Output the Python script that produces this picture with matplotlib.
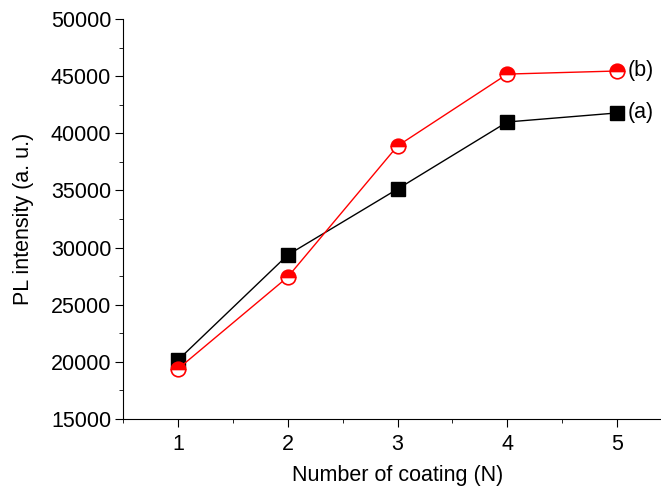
import matplotlib
matplotlib.use('Agg')
import matplotlib.pyplot as plt
from matplotlib.ticker import MultipleLocator

plt.rcParams['font.family'] = ['Liberation Sans', 'DejaVu Sans']

coats = [1, 2, 3, 4, 5]
series_a = [20150, 29350, 35120, 40990, 41780]
series_b = [19380, 27420, 38890, 45180, 45450]

fig = plt.figure(figsize=(6.61, 4.86), dpi=100)
# axes extends a little past the right edge, as in the source image
ax = fig.add_axes([123 / 661, (486 - 419) / 486, 549 / 661, 400 / 486])

ax.plot(coats, series_a, color='black', lw=1, marker='s', ms=9.5,
        markerfacecolor='black', markeredgecolor='black')
ax.plot(coats, series_b, color='red', lw=1, marker='o', ms=10.5,
        fillstyle='top', markerfacecolor='red', markerfacecoloralt='white',
        markeredgecolor='red', markeredgewidth=1.2)

ax.text(5.1, series_a[-1], '(a)', fontsize=15.5, va='center')
ax.text(5.1, series_b[-1], '(b)', fontsize=15.5, va='center')

ax.set_xlim(0.5, 5.5)
ax.set_ylim(15000, 50000)
ax.xaxis.set_major_locator(MultipleLocator(1))
ax.xaxis.set_minor_locator(MultipleLocator(0.5))
ax.yaxis.set_major_locator(MultipleLocator(5000))
ax.yaxis.set_minor_locator(MultipleLocator(2500))
ax.tick_params(which='major', direction='out', length=6, labelsize=15.5)
ax.tick_params(axis='y', which='major', pad=2.5)
ax.tick_params(axis='x', which='major', pad=5)
ax.tick_params(which='minor', direction='out', length=3)
for s in ['top', 'right']:
    ax.spines[s].set_visible(False)

ax.set_xlabel('Number of coating (N)', fontsize=15.5, labelpad=7)
ax.set_ylabel('PL intensity (a. u.)', fontsize=15.5, labelpad=12)

fig.savefig('out.png', dpi=100)
